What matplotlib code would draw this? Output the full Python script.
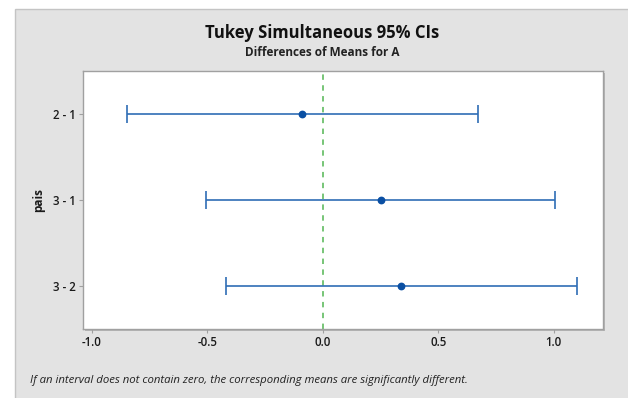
import matplotlib
matplotlib.use("Agg")
import matplotlib.pyplot as plt
from matplotlib.patches import Rectangle

pairs = ["2 - 1", "3 - 1", "3 - 2"]
diff_means = [-0.088, 0.250, 0.338]
lower = [-0.848, -0.506, -0.420]
upper = [0.672, 1.007, 1.100]
x_ticks = [-1.0, -0.5, 0.0, 0.5, 1.0]
x_ticklabels = ["-1.0", "-0.5", "0.0", "0.5", "1.0"]

plt.rcParams['font.family'] = ['Open Sans', 'DejaVu Sans']

W, H = 628, 398
fig = plt.figure(figsize=(W / 100, H / 100), dpi=100)
fig.patch.set_facecolor('white')

# gray panel
fig.patches.append(Rectangle((15 / W, -0.05), 1.1, 1 - 9 / H + 0.05,
                             transform=fig.transFigure, facecolor='#e3e3e3',
                             edgecolor='#c4c4c4', linewidth=1.0, zorder=0))
# shadow for plot frame
fig.patches.append(Rectangle((85 / W, (H - 331) / H), 520 / W, 258 / H,
                             transform=fig.transFigure, facecolor='#b5b5b5',
                             edgecolor='none', zorder=0.5))

ax = fig.add_axes([83 / W, (H - 329) / H, 520 / W, 258 / H])
ax.set_zorder(2)
ax.set_facecolor('white')

ypos = list(range(len(pairs)))
ax.axvline(0, color='#6cc06c', linestyle=(0, (3, 3)), linewidth=1.3, zorder=1)

err_lo = [m - l for m, l in zip(diff_means, lower)]
err_hi = [u - m for m, u in zip(diff_means, upper)]
ax.errorbar(diff_means, ypos, xerr=[err_lo, err_hi], fmt='o', color='#0a4fa3',
            ecolor='#2f6db5', elinewidth=1.2, capsize=6.8, capthick=1.2,
            markersize=4.6, zorder=3)

ax.set_ylim(len(pairs) - 0.5, -0.5)
ax.set_xlim(-1.038, 1.213)
ax.set_yticks(ypos)
ax.set_yticklabels(pairs, fontsize=8.3, color='#1a1a1a', fontweight='semibold')
ax.set_xticks(x_ticks)
ax.set_xticklabels(x_ticklabels, fontsize=8.3, color='#1a1a1a', fontweight='semibold')
ax.tick_params(axis='both', length=3, width=0.8, color='#a0a0a0', pad=2)
for s in ax.spines.values():
    s.set_color('#a0a0a0')
    s.set_linewidth(1.0)

ax.set_ylabel('pais', fontsize=8.5, fontweight='bold', color='#1a1a1a', labelpad=6)

fig.text(322 / W, 1 - 33 / H, 'Tukey Simultaneous 95% CIs', ha='center', va='center',
         fontsize=12, fontweight='bold', color='#111111')
fig.text(322 / W, 1 - 52 / H, 'Differences of Means for A', ha='center', va='center',
         fontsize=8.5, fontweight='bold', color='#222222')
fig.text(30 / W, 1 - 380 / H,
         'If an interval does not contain zero, the corresponding means are significantly different.',
         ha='left', va='center', fontsize=8.2, style='italic', color='#222222')

fig.savefig('out.png', dpi=100)
